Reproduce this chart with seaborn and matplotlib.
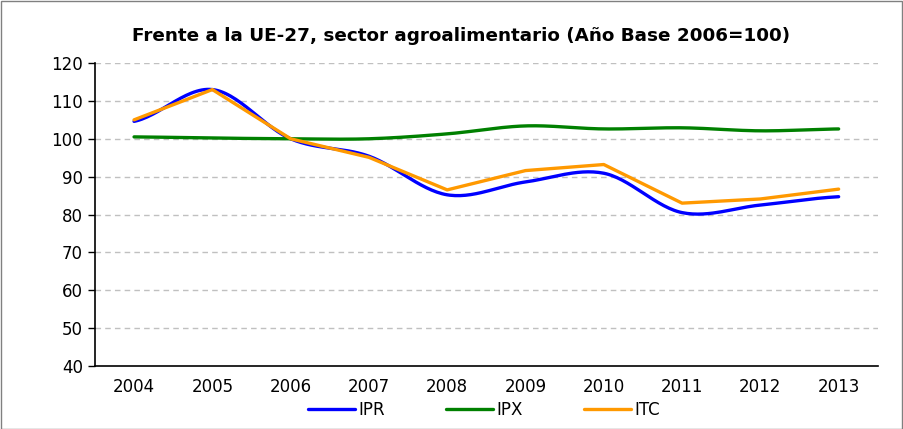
import numpy as np
import pandas as pd
import seaborn as sns
import matplotlib.pyplot as plt
from matplotlib.patches import Rectangle

years = ['2004', '2005', '2006', '2007', '2008', '2009', '2010', '2011', '2012', '2013']
ipr = [104.6, 113.0, 100.0, 95.4, 85.2, 88.6, 90.9, 80.5, 82.5, 84.7]
ipx = [100.5, 100.2, 100.0, 100.0, 101.3, 103.4, 102.6, 102.9, 102.1, 102.6]
itc = [105.0, 113.0, 100.0, 95.1, 86.5, 91.6, 93.2, 83.0, 84.1, 86.7]

colors = {'IPR': '#0000FF', 'IPX': '#008000', 'ITC': '#FF9900'}


def smooth(vals, n=30):
    # Catmull-Rom curve through the points (like Excel's smoothed line)
    p = np.asarray(vals, float)
    ext = np.concatenate([[p[0]], p, [p[-1]]])
    xs, ys = [], []
    t = np.linspace(0, 1, n, endpoint=False)
    for i in range(len(p) - 1):
        p0, p1, p2, p3 = ext[i:i + 4]
        y = 0.5 * (2 * p1 + (-p0 + p2) * t + (2 * p0 - 5 * p1 + 4 * p2 - p3) * t ** 2
                   + (-p0 + 3 * p1 - 3 * p2 + p3) * t ** 3)
        xs.extend(i + t)
        ys.extend(y)
    xs.append(len(p) - 1)
    ys.append(p[-1])
    return np.array(xs), np.array(ys)


frames = []
for name, vals, sm in [('IPR', ipr, True), ('IPX', ipx, True), ('ITC', itc, False)]:
    if sm:
        x, y = smooth(vals)
    else:
        x, y = np.arange(len(vals)), np.array(vals)
    frames.append(pd.DataFrame({'x': x, 'valor': y, 'serie': name}))
df = pd.concat(frames, ignore_index=True)

sns.set_style('white')
plt.rcParams['font.family'] = ['DejaVu Sans']
plt.rcParams['text.color'] = 'black'
plt.rcParams['xtick.color'] = 'black'
plt.rcParams['ytick.color'] = 'black'

fig = plt.figure(figsize=(9.04, 4.29), dpi=100)
ax = fig.add_axes([0.105, 0.147, 0.866, 0.706])

sns.lineplot(data=df, x='x', y='valor', hue='serie', palette=colors,
             estimator=None, sort=False, linewidth=2.4, ax=ax, legend=True)

ax.set_xlim(-0.5, len(years) - 0.5)
ax.set_ylim(40, 120)
ax.set_yticks(range(40, 121, 10))
ax.set_xticks(range(len(years)))
ax.set_xticklabels(years)
ax.set_xticks(np.arange(-0.5, len(years), 1), minor=True)
ax.tick_params(axis='x', which='major', length=0, labelsize=12, pad=9)
ax.tick_params(axis='x', which='minor', length=5, width=1, color='black', direction='out')
ax.tick_params(axis='y', length=5, width=1, color='black', direction='out', labelsize=12, left=True)
ax.set_xlabel('')
ax.set_ylabel('')
for y in range(50, 121, 10):
    ax.axhline(y, color='#c0c0c0', lw=1, ls=(0, (4, 3)), zorder=0)

for s in ['top', 'right']:
    ax.spines[s].set_visible(False)
for s in ['left', 'bottom']:
    ax.spines[s].set_color('black')
    ax.spines[s].set_linewidth(1.2)

fig.text(0.51, 0.915, 'Frente a la UE-27, sector agroalimentario (Año Base 2006=100)',
         fontsize=13.2, fontweight='bold', ha='center', va='center')

handles, labels = ax.get_legend_handles_labels()
ax.legend(handles, labels, loc='center', bbox_to_anchor=(0.497, -0.146), ncol=3,
          frameon=False, fontsize=12, handlelength=2.8, columnspacing=3.7,
          handletextpad=0.2)

fig.add_artist(Rectangle((0.001, 0.001), 0.997, 0.997, transform=fig.transFigure,
                         fill=False, edgecolor='#808080', lw=1))

fig.savefig('out.png', dpi=100)
